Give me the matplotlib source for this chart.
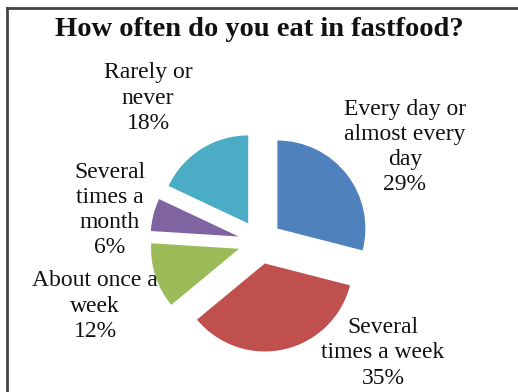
import matplotlib
matplotlib.use("Agg")
import matplotlib.pyplot as plt
from matplotlib.lines import Line2D

# Survey answers, clockwise from 12 o'clock
categories = ["Every day or\nalmost every\nday", "Several\ntimes a week",
              "About once a\nweek", "Several\ntimes a\nmonth", "Rarely or\nnever"]
shares = [29, 35, 12, 6, 18]
colors = ["#4F81BD", "#C0504D", "#9BBB59", "#8064A2", "#4BACC6"]

W, H, DPI = 518, 392, 100
R_PX = 88.0            # pie radius in pixels
CX, CY = 260.0, 242.0  # pie centre in pixels (from top-left)

fig = plt.figure(figsize=(W / DPI, H / DPI), dpi=DPI)
ax = fig.add_axes([0, 0, 1, 1])

ax.pie(shares, colors=colors, startangle=90, counterclock=False,
       explode=[0.25] * len(shares), radius=1.0,
       wedgeprops=dict(linewidth=0))

# one data unit = one pie radius
ax.set_xlim(-CX / R_PX, (W - CX) / R_PX)
ax.set_ylim(-(H - CY) / R_PX, CY / R_PX)
ax.axis("off")

serif = ["Liberation Serif", "DejaVu Serif"]

def px(x, y):
    return (x - CX) / R_PX, (CY - y) / R_PX

label_pos = [(405, 147), (383, 353), (95, 306), (110, 210), (148, 98)]
for cat, val, (lx, ly) in zip(categories, shares, label_pos):
    tx, ty = px(lx, ly)
    ax.text(tx, ty, f"{cat}\n{val}%", ha="center", va="center",
            family=serif, fontsize=17, linespacing=1.27, color="#111111")

fig.text(259 / W, 1 - 29 / H, "How often do you eat in fastfood?",
         ha="center", va="center", family=serif, fontsize=20.5,
         fontweight="bold", color="#111111")

# frame lines along the left and top edges
fig.add_artist(Line2D([6.5 / W, 6.5 / W], [0, 1 - 8 / H],
                      transform=fig.transFigure, color="#444444", lw=2))
fig.add_artist(Line2D([6.5 / W, 1], [1 - 8 / H, 1 - 8 / H],
                      transform=fig.transFigure, color="#444444", lw=2))

fig.savefig("out.png", dpi=DPI)
